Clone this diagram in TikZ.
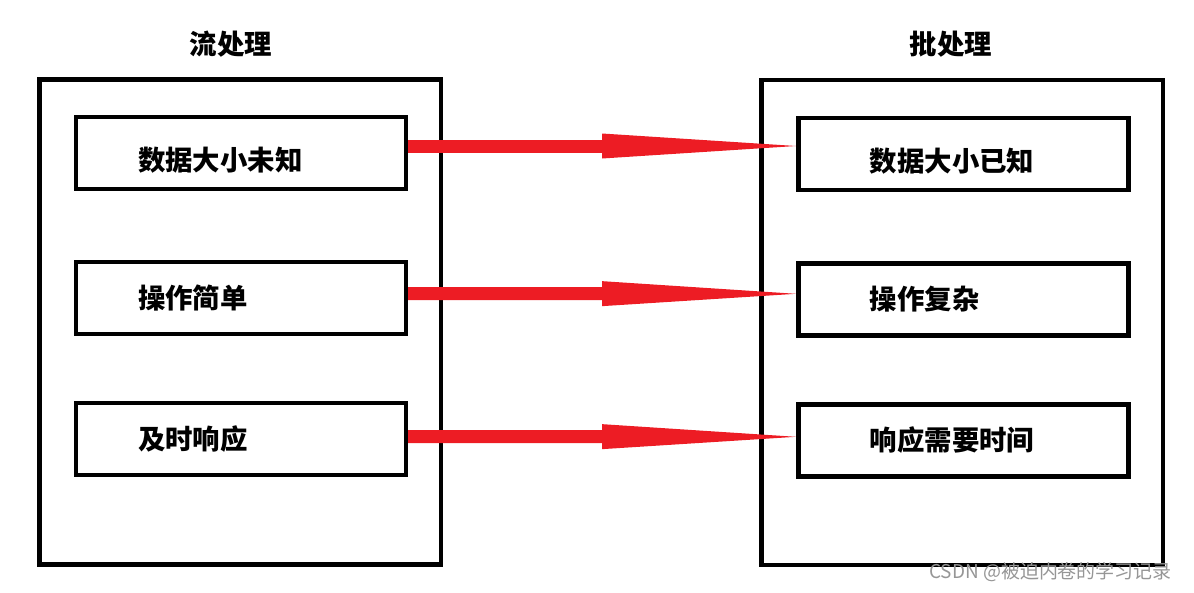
\documentclass[tikz,border=0pt]{standalone}
\usepackage{fontspec}
\newfontfamily\cjkfont{Noto Sans CJK SC}
\usetikzlibrary{arrows.meta}
\definecolor{paintred}{RGB}{237,28,36}
\definecolor{markgray}{RGB}{150,150,150}
\tikzset{
  groupbox/.style={draw, line width=0.09cm, minimum width=8.03cm, minimum height=9.7cm},
  itembox/.style={draw, line width=0.09cm, minimum width=6.6cm, minimum height=1.44cm, align=left,
    font=\cjkfont\bfseries\fontsize{15.6pt}{18pt}\selectfont},
  leftitem/.style={itembox, inner xsep=1.24cm, text width=4.12cm},
  rightitem/.style={itembox, inner xsep=1.43cm, text width=3.74cm},
  lowtext/.style={text height=21pt, text depth=1.2pt},
  grouptitle/.style={font=\cjkfont\bfseries\fontsize{15.6pt}{18pt}\selectfont},
  bigarrow/.style={draw=paintred, line width=0.26cm,
    -{Triangle[length=3.88cm, width=0.5cm, line width=0pt]}},
}

\begin{document}
\begin{tikzpicture}[x=0.02cm, y=-0.02cm]
  \useasboundingbox (0,0) rectangle (1194,592);
  \node[grouptitle] (streamtitle) at (231,44) {流处理};
  \node[grouptitle] (batchtitle) at (951,44) {批处理};
  \node[groupbox] (stream) at (240.4,322) {};
  \node[groupbox] (batch) at (962.3,322.5) {};
  \node[leftitem, lowtext] (s1) at (241,153) {数据大小未知};
  \node[leftitem] (s2) at (241,298) {操作简单};
  \node[leftitem] (s3) at (241,439) {及时响应};
  \node[rightitem, lowtext] (b1) at (963.3,154) {数据大小已知};
  \node[rightitem] (b2) at (963.3,299.3) {操作复杂};
  \node[rightitem] (b3) at (963.3,440.3) {响应需要时间};
  \draw[bigarrow] ([yshift=0.14cm]s1.east) -- ([yshift=0.16cm]b1.west);
  \draw[bigarrow] ([yshift=0.09cm]s2.east) -- ([yshift=0.11cm]b2.west);
  \draw[bigarrow] ([yshift=0.05cm]s3.east) -- ([yshift=0.07cm]b3.west);
  \node[font=\cjkfont\fontsize{10.8pt}{13pt}\selectfont, text=markgray] (mark) at (1050.5,572) {CSDN @被迫内卷的学习记录};
\end{tikzpicture}
\end{document}
